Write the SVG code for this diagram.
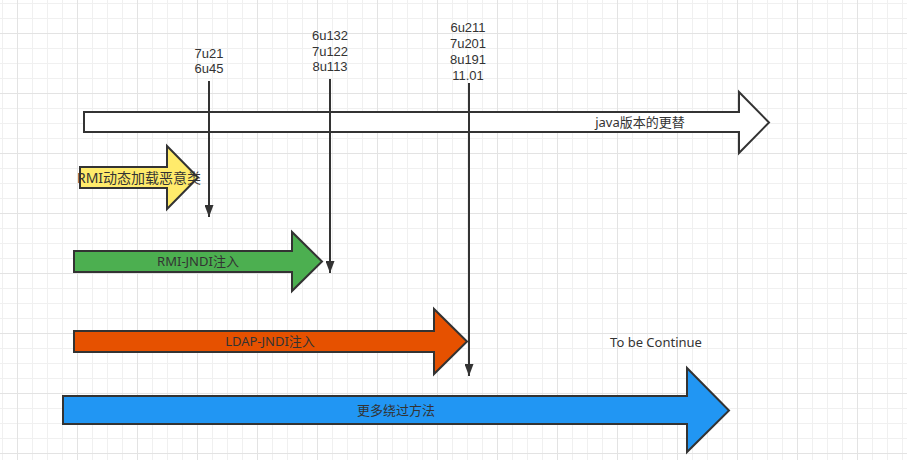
<svg xmlns="http://www.w3.org/2000/svg" width="907" height="460" viewBox="0 0 907 460">
  <defs>
    <pattern id="grid" x="17" y="33" width="60" height="60" patternUnits="userSpaceOnUse">
      <path d="M15.5 0V60M30.5 0V60M45.5 0V60M0 15.5H60M0 30.5H60M0 45.5H60" stroke="#f0f0f0" stroke-width="1" fill="none"/>
      <path d="M0.5 0V60M0 0.5H60" stroke="#e3e3e3" stroke-width="1" fill="none"/>
    </pattern>
    <marker id="arr" markerUnits="userSpaceOnUse" markerWidth="12" markerHeight="9" refX="12" refY="4.5" orient="auto">
      <path d="M0,0 L12,4.5 L0,9 z" fill="#333333"/>
    </marker>
    <style>
      .shape { stroke: #333333; stroke-width: 2; stroke-linejoin: miter; }
      .lbl { font-family: "Noto Sans", "Noto Sans CJK SC", sans-serif; font-size: 13px; fill: #333333; text-anchor: middle; }
      .ver { font-family: "Liberation Sans", Arial, sans-serif; font-size: 13px; fill: #333333; text-anchor: middle; }
      .conn { stroke: #333333; stroke-width: 2; fill: none; }
    </style>
  </defs>
  <rect width="907" height="460" fill="#ffffff"/>
  <rect width="907" height="460" fill="url(#grid)"/>

  <g id="java-arrow">
    <polygon class="shape" fill="#ffffff" points="84,112 739,112 739,92 769,122.5 739,153 739,132 84,132"/>
    <text class="lbl" x="640" y="126.5">java版本的更替</text>
  </g>
  <g id="rmi-dynamic">
    <polygon class="shape" fill="#ffeb6b" points="80,167 167,167 167,146 198,177.5 167,209 167,188 80,188"/>
    <text class="lbl" x="139" y="182.5" style="font-size:14px">RMI动态加载恶意类</text>
  </g>
  <g id="rmi-jndi">
    <polygon class="shape" fill="#4caf50" points="74,251 292,251 292,232 322,261.5 292,291 292,272 74,272"/>
    <text class="lbl" x="198" y="266">RMI-JNDI注入</text>
  </g>
  <g id="ldap-jndi">
    <polygon class="shape" fill="#e65100" points="74,331 434,331 434,309 467,341.5 434,374 434,352 74,352"/>
    <text class="lbl" x="270" y="346">LDAP-JNDI注入</text>
  </g>
  <g id="more-bypass">
    <polygon class="shape" fill="#2196f3" points="63,396 687,396 687,368 729,410.5 687,452 687,424 63,424"/>
    <text class="lbl" x="396" y="415">更多绕过方法</text>
  </g>
  <g id="to-be-continue">
    <text class="lbl" x="656" y="346.5">To be Continue</text>
  </g>

  <g id="version-1">
    <text class="ver" x="209" y="57.5">7u21</text>
    <text class="ver" x="209" y="73">6u45</text>
  </g>
  <g id="version-2">
    <text class="ver" x="330" y="39.5">6u132</text>
    <text class="ver" x="330" y="55.5">7u122</text>
    <text class="ver" x="330" y="71">8u113</text>
  </g>
  <g id="version-3">
    <text class="ver" x="468" y="31.5">6u211</text>
    <text class="ver" x="468" y="47.5">7u201</text>
    <text class="ver" x="468" y="63.5">8u191</text>
    <text class="ver" x="468" y="80">11.01</text>
  </g>

  <g id="connectors">
    <line class="conn" x1="209" y1="81" x2="209" y2="217" marker-end="url(#arr)"/>
    <line class="conn" x1="330" y1="79" x2="330" y2="273" marker-end="url(#arr)"/>
    <line class="conn" x1="469" y1="83" x2="469" y2="376" marker-end="url(#arr)"/>
  </g>
</svg>
